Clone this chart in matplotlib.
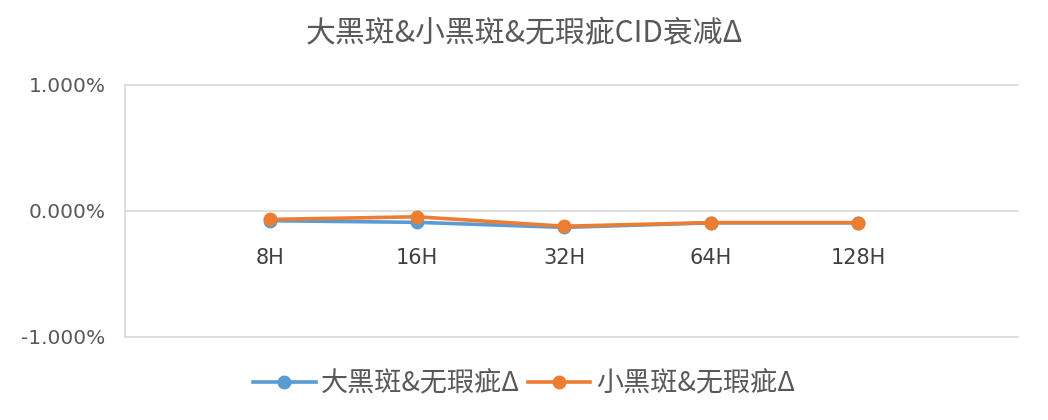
import matplotlib

matplotlib.use("Agg")
import matplotlib.pyplot as plt
from matplotlib.ticker import FuncFormatter

plt.rcParams["font.family"] = ["Noto Sans CJK SC", "DejaVu Sans"]

TITLE = "大黑斑&小黑斑&无瑕疵CID衰减Δ"
HOURS = ["8H", "16H", "32H", "64H", "128H"]
# values in percent
BIG_VS_CLEAN = [-0.077, -0.090, -0.130, -0.094, -0.094]
SMALL_VS_CLEAN = [-0.067, -0.046, -0.121, -0.092, -0.092]
SERIES_NAMES = ["大黑斑&无瑕疵Δ", "小黑斑&无瑕疵Δ"]

BLUE = "#5B9BD5"
ORANGE = "#ED7D31"
GREY_TXT = "#595959"

fig = plt.figure(figsize=(10.48, 4.2), dpi=100)
ax = fig.add_axes([125 / 1048, 1 - 337 / 420, (1018 - 125) / 1048, (337 - 85) / 420])

x = list(range(len(HOURS)))
ax.plot(x, BIG_VS_CLEAN, "-o", color=BLUE, lw=2.6, ms=9, label=SERIES_NAMES[0], zorder=3)
ax.plot(x, SMALL_VS_CLEAN, "-o", color=ORANGE, lw=2.6, ms=9, label=SERIES_NAMES[1], zorder=4)

ax.set_xlim(-0.99, 5.09)
ax.set_ylim(-1.0, 1.0)
ax.set_yticks([-1.0, 0.0, 1.0])
ax.yaxis.set_major_formatter(FuncFormatter(lambda v, _: f"{v:.3f}%"))
ax.tick_params(axis="y", length=0, pad=14, labelsize=14.5, labelcolor=GREY_TXT)
for lab in ax.get_yticklabels():
    lab.set_family(["DejaVu Sans"])
ax.grid(axis="y", color="#D9D9D9", lw=1.2)
for gl in ax.get_ygridlines():
    gl.set_clip_on(False)
ax.set_xticks([])
for side in ("top", "right", "bottom"):
    ax.spines[side].set_visible(False)
ax.spines["left"].set_color("#D9D9D9")
ax.spines["left"].set_linewidth(1.2)

# category labels sit just under the zero line
for xi, lab in zip(x, HOURS):
    ax.annotate(lab, (xi, 0), textcoords="offset points", xytext=(0, -34),
                ha="center", va="center", fontsize=15, color="#404040",
                family=["DejaVu Sans"])

fig.text(0.5, 1 - 34 / 420, TITLE, ha="center", va="center", fontsize=21.5, color=GREY_TXT)
fig.legend(loc="center", bbox_to_anchor=(0.5, 1 - 384 / 420), ncol=2, frameon=False,
           fontsize=19.5, labelcolor=GREY_TXT, handlelength=2.3, columnspacing=0.3,
           handletextpad=0.2)

fig.savefig("out.png", dpi=100, facecolor="white")
